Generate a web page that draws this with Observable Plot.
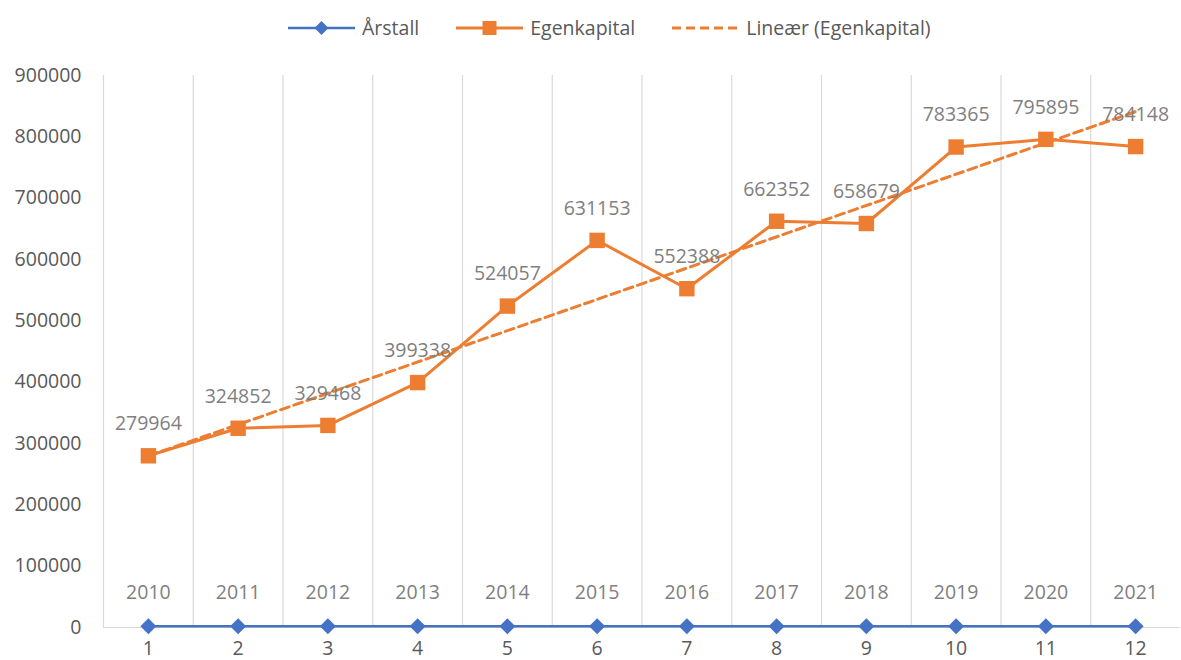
<!DOCTYPE html>
<html><head><meta charset="utf-8">
<script src="https://cdn.jsdelivr.net/npm/d3@7"></script>
<script src="https://cdn.jsdelivr.net/npm/@observablehq/plot@0.6"></script>
<style>
body{margin:0;background:#fff;font-family:"Open Sans",sans-serif;}
#legend{height:55px;display:flex;align-items:center;padding-left:288px;font-size:19.5px;color:#595959;box-sizing:border-box;padding-top:0px}
.item{display:flex;align-items:center;margin-right:37px;white-space:nowrap}
.item svg{margin-right:7px}
</style></head><body>
<div id="legend"></div><div id="chart"></div>
<script>
const categories = [1, 2, 3, 4, 5, 6, 7, 8, 9, 10, 11, 12];
const arstall = [2010, 2011, 2012, 2013, 2014, 2015, 2016, 2017, 2018, 2019, 2020, 2021];
const egenkapital = [279964, 324852, 329468, 399338, 524057, 631153, 552388, 662352, 658679, 783365, 795895, 784148];
const yTicks = [0, 100000, 200000, 300000, 400000, 500000, 600000, 700000, 800000, 900000];
const seriesNames = ["Årstall", "Egenkapital", "Lineær (Egenkapital)"];

const blue = "#4472c4", orange = "#ed7d31";

// legend
const sw = {
  "Årstall": `<svg width="67" height="20"><line x1="0" y1="10" x2="67" y2="10" stroke="${blue}" stroke-width="2.5"/><path d="M33.5 3 L40.5 10 L33.5 17 L26.5 10 Z" fill="${blue}"/></svg>`,
  "Egenkapital": `<svg width="67" height="20"><line x1="0" y1="10" x2="67" y2="10" stroke="${orange}" stroke-width="3"/><rect x="26.5" y="3" width="14" height="14" fill="${orange}"/></svg>`,
  "Lineær (Egenkapital)": `<svg width="67" height="20"><line x1="0" y1="10" x2="67" y2="10" stroke="${orange}" stroke-width="3" stroke-dasharray="9 5"/></svg>`
};
document.getElementById("legend").innerHTML = seriesNames.map(n => `<div class="item">${sw[n]}<span>${n}</span></div>`).join("");

const rowsA = categories.map((c, i) => ({x: c, y: arstall[i], label: String(arstall[i])}));
const rowsE = categories.map((c, i) => ({x: c, y: egenkapital[i], label: String(egenkapital[i])}));
const bounds = categories.map(c => c - 0.5);

const plot = Plot.plot({
  width: 1181,
  height: 605,
  marginLeft: 103,
  marginRight: 1,
  marginTop: 20,
  marginBottom: 33,
  style: {fontFamily: "Open Sans, sans-serif", fontSize: "19.5px", color: "#595959", background: "white"},
  x: {type: "linear", domain: [0.5, 12.5]},
  y: {domain: [0, 900000]},
  marks: [
    Plot.ruleX(bounds, {stroke: "#d9d9d9", strokeWidth: 1.2}),
    Plot.ruleY([0], {stroke: "#d9d9d9", strokeWidth: 1.2}),
    Plot.axisY({ticks: yTicks, tickFormat: d3.format("d"), tickSize: 0, tickPadding: 22, label: null, fill: "#595959"}),
    Plot.axisX({ticks: categories, tickFormat: d => String(d), tickSize: 0, tickPadding: 14, label: null, fill: "#595959"}),
    Plot.line(rowsA, {x: "x", y: "y", stroke: blue, strokeWidth: 2.7}),
    Plot.dot(rowsA, {x: "x", y: "y", symbol: "diamond2", r: 7.2, fill: blue}),
    Plot.line(rowsE, {x: "x", y: "y", stroke: orange, strokeWidth: 3}),
    Plot.linearRegressionY(rowsE, {x: "x", y: "y", ci: 0, stroke: orange, strokeWidth: 3, strokeDasharray: "9 5"}),
    Plot.dot(rowsE, {x: "x", y: "y", symbol: "square", r: 8.7, fill: orange}),
    Plot.text(rowsE, {x: "x", y: "y", text: "label", dy: -32, fill: "#7f7f7f"}),
    Plot.text(rowsA, {x: "x", y: "y", text: "label", dy: -34, fill: "#7f7f7f"})
  ]
});
document.getElementById("chart").appendChild(plot);
</script>
</body></html>
